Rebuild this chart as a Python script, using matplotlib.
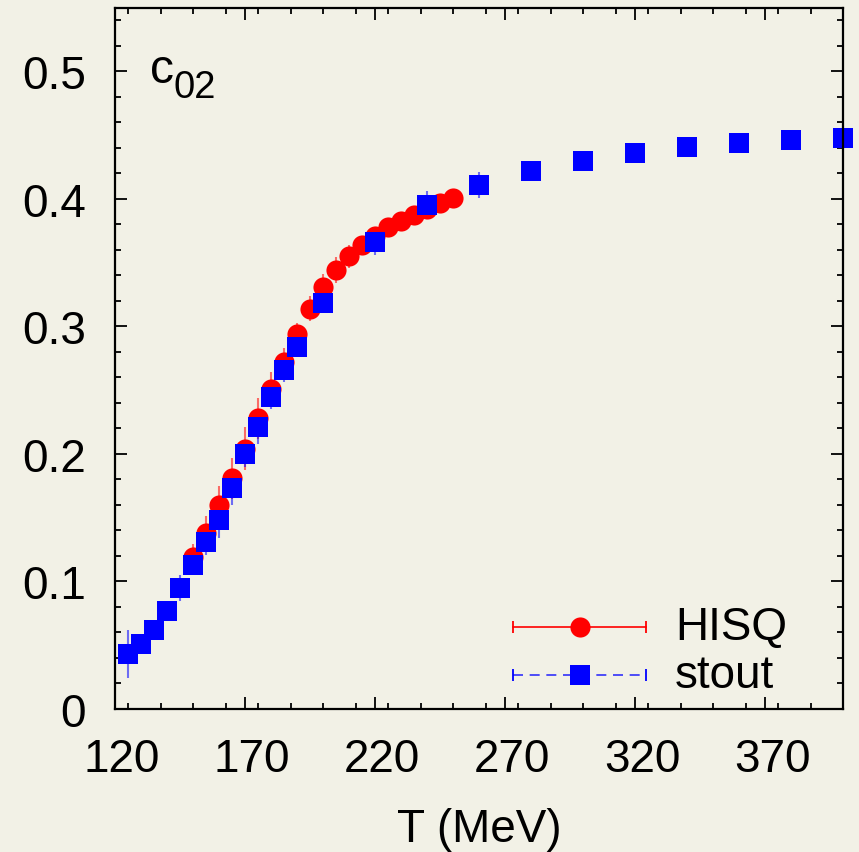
import matplotlib
matplotlib.use('Agg')
import matplotlib.pyplot as plt
import matplotlib.transforms as mtransforms
from matplotlib.ticker import MultipleLocator
import numpy as np

# HISQ data
hisq_T = [150, 155, 160, 165, 170, 175, 180, 185, 190, 195, 200, 205, 210,
          215, 220, 225, 230, 235, 240, 245, 250]
hisq_c02 = [0.119, 0.138, 0.160, 0.181, 0.204, 0.228, 0.251, 0.272, 0.294,
            0.314, 0.331, 0.344, 0.355, 0.364, 0.371, 0.378, 0.383, 0.387,
            0.392, 0.397, 0.401]
hisq_err = [0.010, 0.013, 0.015, 0.016, 0.017, 0.016, 0.013, 0.011, 0.009,
            0.010, 0.010, 0.010, 0.009, 0.007, 0.005, 0.004, 0.003, 0.003,
            0.003, 0.003, 0.002]

# stout data
stout_T = [125, 130, 135, 140, 145, 150, 155, 160, 165, 170, 175, 180, 185,
           190, 200, 220, 240, 260, 280, 300, 320, 340, 360, 380, 400]
stout_c02 = [0.043, 0.051, 0.062, 0.077, 0.095, 0.113, 0.131, 0.148, 0.173,
             0.200, 0.221, 0.245, 0.266, 0.284, 0.318, 0.366, 0.395, 0.411,
             0.422, 0.430, 0.436, 0.441, 0.444, 0.446, 0.448]
stout_err = [0.019, 0.008, 0.005, 0.004, 0.010, 0.008, 0.010, 0.014, 0.013,
             0.010, 0.013, 0.010, 0.010, 0.008, 0.006, 0.010, 0.011, 0.010,
             0.003, 0.003, 0.003, 0.003, 0.003, 0.008, 0.009]

xticks = [120, 170, 220, 270, 320, 370]
yticks = [0, 0.1, 0.2, 0.3, 0.4, 0.5]
ytick_labels = ['0', '0.1', '0.2', '0.3', '0.4', '0.5']

bg = '#f2f1e6'
fs = 33
plt.rcParams['font.family'] = ['Liberation Sans', 'DejaVu Sans']

fig = plt.figure(figsize=(8.59, 8.53), dpi=100, facecolor=bg)
ax = fig.add_axes([115/859, 143/853, 728/859, 701.5/853], facecolor=bg)

ax.errorbar(hisq_T, hisq_c02, yerr=hisq_err, fmt='o', color='red',
            ms=14.5, mew=0, ecolor=(1, 0, 0, 0.55), elinewidth=1.5,
            capsize=4, capthick=1.5, clip_on=False)
ax.errorbar(stout_T, stout_c02, yerr=stout_err, fmt='s', color='blue',
            ms=15, mew=0, ecolor=(0, 0, 1, 0.55), elinewidth=1.5,
            capsize=4.5, capthick=1.5, clip_on=False)

ax.set_xlim(120, 400)
ax.set_ylim(0, 0.55)
ax.set_xticks(xticks)
ax.set_yticks(yticks)
ax.set_yticklabels(ytick_labels)
ax.xaxis.set_minor_locator(MultipleLocator(12.5))
ax.yaxis.set_minor_locator(MultipleLocator(0.02))
ax.tick_params(which='both', direction='in', top=True, right=True,
               width=1.3, labelsize=fs, color='black')
ax.tick_params(which='major', length=8.5)
ax.tick_params(which='minor', length=4.3)
ax.tick_params(axis='y', pad=21)
ax.tick_params(axis='x', pad=20)
for sp in ax.spines.values():
    sp.set_linewidth(1.6)

# gnuplot puts x labels a bit right of the ticks
offset = mtransforms.ScaledTranslation(0.07, 0, fig.dpi_scale_trans)
for lab in ax.get_xticklabels():
    lab.set_transform(lab.get_transform() + offset)

ax.set_xlabel('T (MeV)', fontsize=fs, labelpad=19)

# c_02 label with a large subscript
ax.text(0.048, 0.894, 'c', transform=ax.transAxes, fontsize=34.5,
        ha='left', va='baseline')
ax.text(0.081, 0.872, '02', transform=ax.transAxes, fontsize=27.5,
        ha='left', va='baseline')

# legend keys, gnuplot style
tr = ax.transAxes
x0, x1, xm, xt = 0.547, 0.729, 0.639, 0.769
for y, col, ls, mk, name in [(0.117, 'red', '-', 'o', 'HISQ'),
                              (0.048, 'blue', (0, (6, 4)), 's', 'stout')]:
    ax.plot([x0, x1], [y, y], color=col, ls=ls, lw=1.2, transform=tr,
            alpha=0.8 if col == 'blue' else 1)
    ax.plot([x0, x1], [y, y], ls='none', marker='|', ms=9, mew=1.3,
            color=col, transform=tr)
    ax.plot([xm], [y], marker=mk, ms=14.5, mew=0, color=col, transform=tr)
    ax.text(xt, y, name, fontsize=fs, va='center', ha='left', transform=tr)

fig.savefig('out.png', dpi=100, facecolor=bg)
